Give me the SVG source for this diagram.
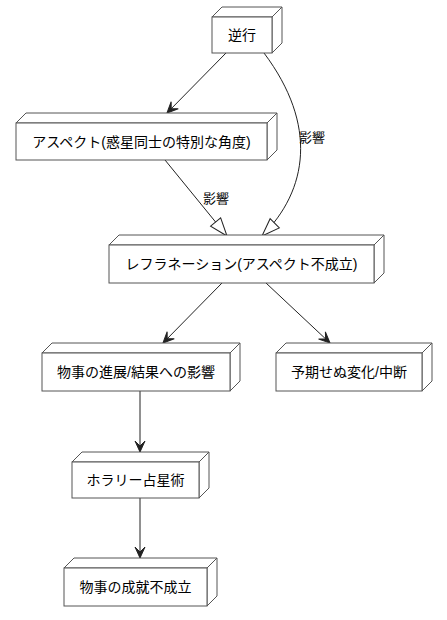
<svg xmlns="http://www.w3.org/2000/svg" width="447" height="620" viewBox="0 0 447 620">
<defs>
<style>
.box{fill:#ffffff;stroke:#555555;stroke-width:1}
.t{font-family:"Liberation Sans","Noto Sans CJK JP",sans-serif;font-size:14px;fill:#000000;text-anchor:middle;dominant-baseline:central}
.lbl{font-family:"Liberation Sans","Noto Sans CJK JP",sans-serif;font-size:13px;fill:#000000}
.e{fill:none;stroke:#222222;stroke-width:1}
</style>
<marker id="ah" markerUnits="userSpaceOnUse" viewBox="-12 -6 14 12" refX="0" refY="0" markerWidth="14" markerHeight="12" orient="auto">
<path d="M0,0 L-11,-5 L-6,0 L-11,5 Z" fill="#222222" stroke="#222222" stroke-width="1"/>
</marker>
<marker id="tri" markerUnits="userSpaceOnUse" viewBox="-20 -8 22 16" refX="0" refY="0" markerWidth="22" markerHeight="16" orient="auto">
<path d="M0,0 L-18,-6.5 L-18,6.5 Z" fill="#ffffff" stroke="#222222" stroke-width="1"/>
</marker>
</defs>
<g id="connectors">
<line class="e" x1="226" y1="53" x2="167" y2="113" marker-end="url(#ah)"/>
<path class="e" d="M264,53 C318,125 308,190 262,236" marker-end="url(#tri)"/>
<text class="lbl" x="299" y="142">影響</text>
<line class="e" x1="165" y1="160" x2="227" y2="236" marker-end="url(#tri)"/>
<text class="lbl" x="203" y="203">影響</text>
<line class="e" x1="222" y1="283" x2="163" y2="343" marker-end="url(#ah)"/>
<line class="e" x1="266" y1="283" x2="330" y2="343" marker-end="url(#ah)"/>
<line class="e" x1="140" y1="391" x2="140" y2="452" marker-end="url(#ah)"/>
<line class="e" x1="140" y1="498" x2="140" y2="558" marker-end="url(#ah)"/>
</g>
<g id="n1">
<path class="box" d="M212,17 L222,7 L282,7 L282,43 L272,53 L272,17 Z M272,17 L282,7"/>
<rect class="box" x="212" y="17" width="60" height="36"/>
<text class="t" x="242" y="35">逆行</text>
</g>
<g id="n2">
<path class="box" d="M16,123 L26,113 L277,113 L277,150 L267,160 L267,123 Z M267,123 L277,113"/>
<rect class="box" x="16" y="123" width="251" height="37"/>
<text class="t" x="141.5" y="141.5">アスペクト(惑星同士の特別な角度)</text>
</g>
<g id="n3">
<path class="box" d="M109,245 L119,235 L384,235 L384,273 L374,283 L374,245 Z M374,245 L384,235"/>
<rect class="box" x="109" y="245" width="265" height="38"/>
<text class="t" x="241.5" y="264">レフラネーション(アスペクト不成立)</text>
</g>
<g id="n4">
<path class="box" d="M42,353 L52,343 L240,343 L240,381 L230,391 L230,353 Z M230,353 L240,343"/>
<rect class="box" x="42" y="353" width="188" height="38"/>
<text class="t" x="136" y="372">物事の進展/結果への影響</text>
</g>
<g id="n5">
<path class="box" d="M276,353 L286,343 L432,343 L432,381 L422,391 L422,353 Z M422,353 L432,343"/>
<rect class="box" x="276" y="353" width="146" height="38"/>
<text class="t" x="349" y="372">予期せぬ変化/中断</text>
</g>
<g id="n6">
<path class="box" d="M72,462 L82,452 L209,452 L209,488 L199,498 L199,462 Z M199,462 L209,452"/>
<rect class="box" x="72" y="462" width="127" height="36"/>
<text class="t" x="135.5" y="480">ホラリー占星術</text>
</g>
<g id="n7">
<path class="box" d="M64,568 L74,558 L217,558 L217,596 L207,606 L207,568 Z M207,568 L217,558"/>
<rect class="box" x="64" y="568" width="143" height="38"/>
<text class="t" x="135.5" y="587">物事の成就不成立</text>
</g>
</svg>
